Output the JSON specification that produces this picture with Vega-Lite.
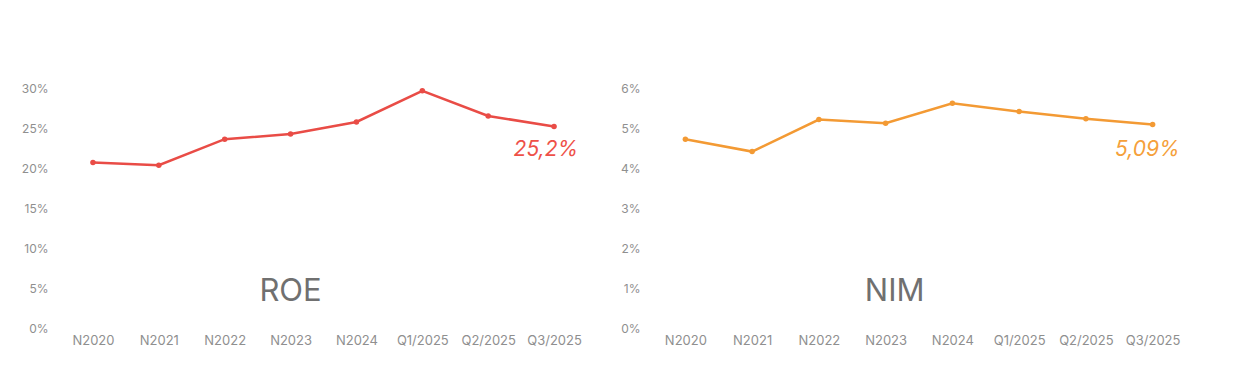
{
  "$schema": "https://vega.github.io/schema/vega-lite/v6.json",
  "background": "white",
  "padding": {"left": 20, "top": 82, "right": 0, "bottom": 0},
  "config": {
    "view": {"stroke": null},
    "font": "Inter",
    "axis": {"grid": false, "domain": false, "ticks": false, "title": null, "labelColor": "#8f8f8f", "labelFont": "Inter", "labelOverlap": false},
    "axisX": {"labelAngle": 0, "labelPadding": 6, "labelFontSize": 13},
    "axisY": {"labelPadding": 12, "labelFontSize": 12, "labelBound": false, "minExtent": 40, "maxExtent": 40}
  },
  "datasets": {
    "d": [
      {"metric": "ROE", "period": "N2020", "value": 20.7},
      {"metric": "ROE", "period": "N2021", "value": 20.35},
      {"metric": "ROE", "period": "N2022", "value": 23.6},
      {"metric": "ROE", "period": "N2023", "value": 24.25},
      {"metric": "ROE", "period": "N2024", "value": 25.75},
      {"metric": "ROE", "period": "Q1/2025", "value": 29.65},
      {"metric": "ROE", "period": "Q2/2025", "value": 26.5},
      {"metric": "ROE", "period": "Q3/2025", "value": 25.2, "label": "25,2%"},
      {"metric": "NIM", "period": "N2020", "value": 4.72},
      {"metric": "NIM", "period": "N2021", "value": 4.41},
      {"metric": "NIM", "period": "N2022", "value": 5.21},
      {"metric": "NIM", "period": "N2023", "value": 5.12},
      {"metric": "NIM", "period": "N2024", "value": 5.62},
      {"metric": "NIM", "period": "Q1/2025", "value": 5.41},
      {"metric": "NIM", "period": "Q2/2025", "value": 5.23},
      {"metric": "NIM", "period": "Q3/2025", "value": 5.09, "label": "5,09%"}
    ]
  },
  "spacing": 25,
  "resolve": {"scale": {"x": "independent", "y": "independent"}},
  "hconcat": [
    {
      "width": 527,
      "height": 240,
      "layer": [
        {
          "data": {"name": "d"},
          "transform": [{"filter": "datum.metric == 'ROE'"}],
          "mark": {"type": "line", "color": "#e94c46", "strokeWidth": 2.5, "point": {"filled": true, "size": 30, "color": "#e94c46"}},
          "encoding": {
            "x": {"field": "period", "type": "ordinal", "sort": null, "scale": {"type": "point", "padding": 0.5}},
            "y": {"field": "value", "type": "quantitative", "scale": {"domain": [0, 30], "nice": false}, "axis": {"values": [0, 5, 10, 15, 20, 25, 30], "labelExpr": "datum.value + '%'"}}
          }
        },
        {
          "data": {"name": "d"},
          "transform": [{"filter": "datum.metric == 'ROE' && datum.label != null"}],
          "mark": {"type": "text", "align": "right", "baseline": "middle", "dx": 24, "dy": 24, "fontSize": 21, "fontStyle": "italic", "color": "#ee5148"},
          "encoding": {
            "x": {"field": "period", "type": "ordinal", "sort": null},
            "y": {"field": "value", "type": "quantitative", "axis": {"values": [0, 5, 10, 15, 20, 25, 30], "labelExpr": "datum.value + '%'"}},
            "text": {"field": "label"}
          }
        },
        {
          "data": {"values": [{"name": "ROE"}]},
          "mark": {"type": "text", "baseline": "middle", "fontSize": 31, "color": "#707070"},
          "encoding": {
            "x": {"datum": "N2023", "type": "ordinal"},
            "y": {"datum": 4.5, "type": "quantitative", "axis": {"values": [0, 5, 10, 15, 20, 25, 30], "labelExpr": "datum.value + '%'"}},
            "text": {"field": "name"}
          }
        }
      ]
    },
    {
      "width": 534,
      "height": 240,
      "layer": [
        {
          "data": {"name": "d"},
          "transform": [{"filter": "datum.metric == 'NIM'"}],
          "mark": {"type": "line", "color": "#f39a34", "strokeWidth": 2.5, "point": {"filled": true, "size": 30, "color": "#f39a34"}},
          "encoding": {
            "x": {"field": "period", "type": "ordinal", "sort": null, "scale": {"type": "point", "padding": 0.5}},
            "y": {"field": "value", "type": "quantitative", "scale": {"domain": [0, 6], "nice": false}, "axis": {"values": [0, 1, 2, 3, 4, 5, 6], "labelExpr": "datum.value + '%'"}}
          }
        },
        {
          "data": {"name": "d"},
          "transform": [{"filter": "datum.metric == 'NIM' && datum.label != null"}],
          "mark": {"type": "text", "align": "right", "baseline": "middle", "dx": 27, "dy": 26, "fontSize": 21, "fontStyle": "italic", "color": "#f5a03a"},
          "encoding": {
            "x": {"field": "period", "type": "ordinal", "sort": null},
            "y": {"field": "value", "type": "quantitative", "axis": {"values": [0, 1, 2, 3, 4, 5, 6], "labelExpr": "datum.value + '%'"}},
            "text": {"field": "label"}
          }
        },
        {
          "data": {"values": [{"name": "NIM"}]},
          "mark": {"type": "text", "baseline": "middle", "dx": 9, "fontSize": 31, "color": "#707070"},
          "encoding": {
            "x": {"datum": "N2023", "type": "ordinal"},
            "y": {"datum": 0.9, "type": "quantitative", "axis": {"values": [0, 1, 2, 3, 4, 5, 6], "labelExpr": "datum.value + '%'"}},
            "text": {"field": "name"}
          }
        }
      ]
    }
  ]
}
